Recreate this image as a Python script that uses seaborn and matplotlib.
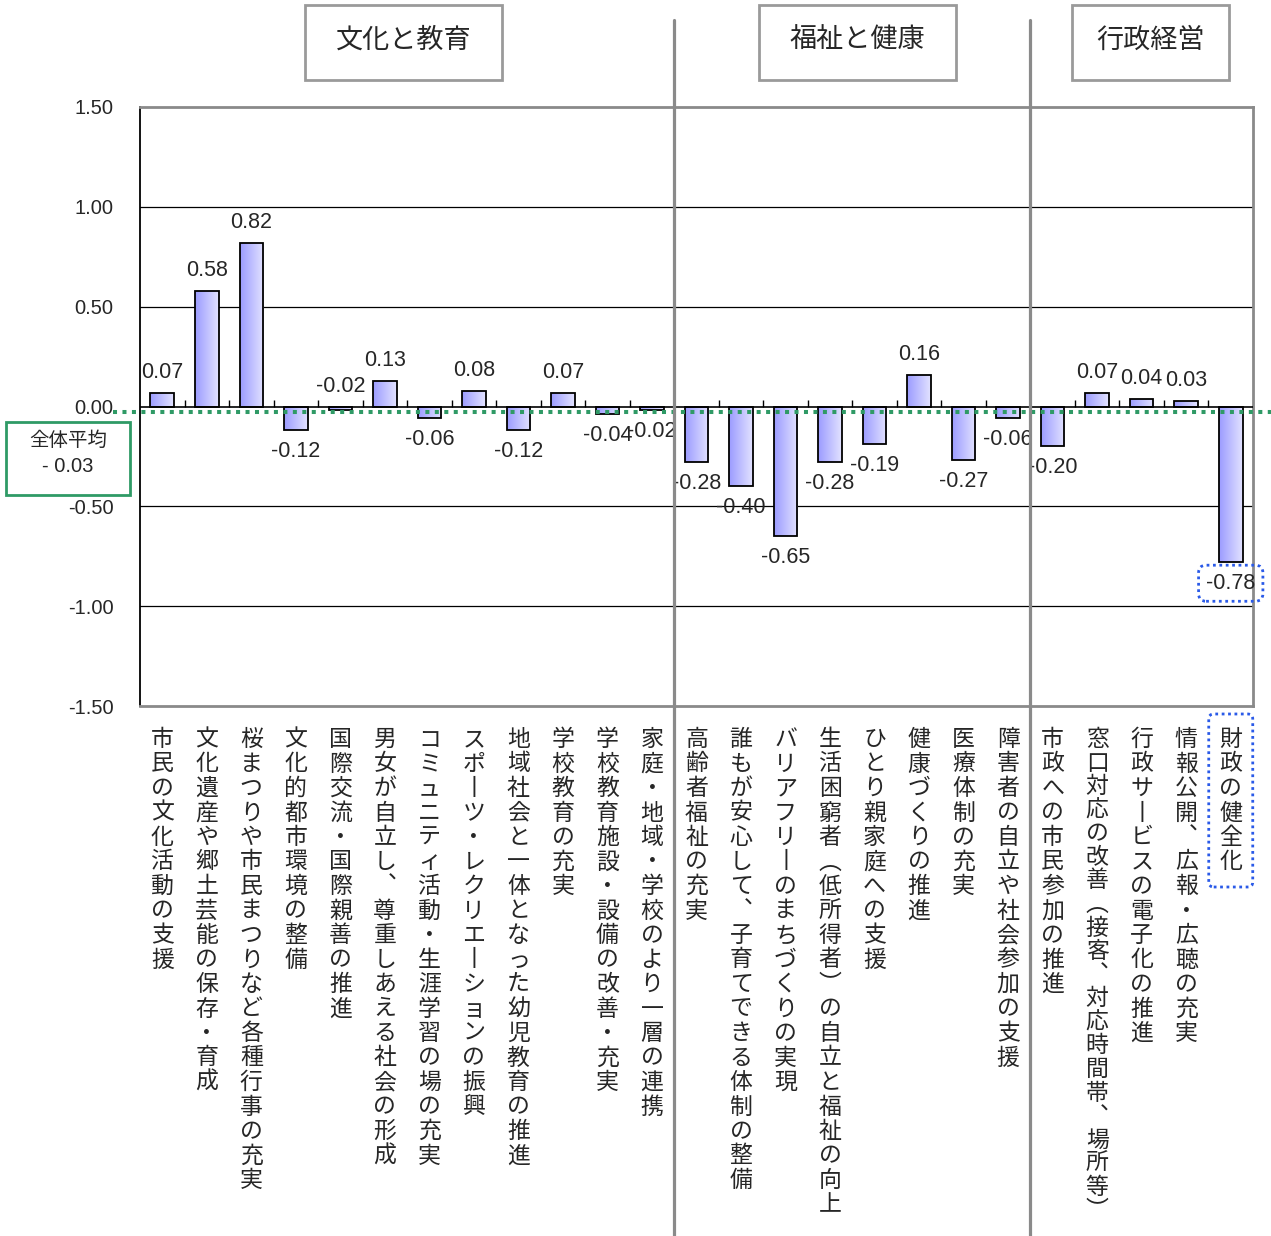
import numpy as np
import pandas as pd
import matplotlib
matplotlib.use("Agg")
import matplotlib.pyplot as plt
import seaborn as sns
from matplotlib.transforms import blended_transform_factory, IdentityTransform
from matplotlib.patches import Rectangle, FancyBboxPatch
from matplotlib.colors import LinearSegmentedColormap

# ---- data -------------------------------------------------------------
categories = [
    "市民の文化活動の支援",
    "文化遺産や郷土芸能の保存・育成",
    "桜まつりや市民まつりなど各種行事の充実",
    "文化的都市環境の整備",
    "国際交流・国際親善の推進",
    "男女が自立し、尊重しあえる社会の形成",
    "コミュニティ活動・生涯学習の場の充実",
    "スポーツ・レクリエーションの振興",
    "地域社会と一体となった幼児教育の推進",
    "学校教育の充実",
    "学校教育施設・設備の改善・充実",
    "家庭・地域・学校のより一層の連携",
    "高齢者福祉の充実",
    "誰もが安心して、子育てできる体制の整備",
    "バリアフリーのまちづくりの実現",
    "生活困窮者（低所得者）の自立と福祉の向上",
    "ひとり親家庭への支援",
    "健康づくりの推進",
    "医療体制の充実",
    "障害者の自立や社会参加の支援",
    "市政への市民参加の推進",
    "窓口対応の改善（接客、対応時間帯、場所等）",
    "行政サービスの電子化の推進",
    "情報公開、広報・広聴の充実",
    "財政の健全化",
]
scores = [0.07, 0.58, 0.82, -0.12, -0.02, 0.13, -0.06, 0.08, -0.12, 0.07,
          -0.04, -0.02, -0.28, -0.40, -0.65, -0.28, -0.19, 0.16, -0.27, -0.06,
          -0.20, 0.07, 0.04, 0.03, -0.78]
groups = ["文化と教育", "福祉と健康", "行政経営"]
group_sizes = [12, 8, 5]
overall_avg = -0.03
avg_caption = ["全体平均", "- 0.03"]
y_ticks = [1.5, 1.0, 0.5, 0.0, -0.5, -1.0, -1.5]
y_tick_labels = ["1.50", "1.00", "0.50", "0.00", "-0.50", "-1.00", "-1.50"]
highlight = "財政の健全化"

# ---- style ------------------------------------------------------------
sns.set_style("white")
plt.rcParams["font.family"] = ["Noto Sans CJK JP", "DejaVu Sans"]
NUM_FONT = ["Liberation Sans Narrow", "Liberation Sans", "DejaVu Sans"]
GREEN = "#2f9a66"
BLUE = "#2a5ae8"
GRAY = "#8a8a8a"

W, H = 1271, 1236
fig = plt.figure(figsize=(W / 100, H / 100), dpi=100)
ax = fig.add_axes([140 / W, 1 - 706 / H, (1253 - 140) / W, (706 - 107) / H])

n = len(categories)
df = pd.DataFrame({"pos": np.arange(n), "score": scores})
sns.barplot(data=df, x="pos", y="score", order=list(range(n)), width=0.53,
            color="#b8b8ff", saturation=1, edgecolor="black", linewidth=1.3,
            ax=ax, zorder=3)

# horizontal gradient fill inside every bar
grad_cmap = LinearSegmentedColormap.from_list("bar", ["#9c9cff", "#e2e2ff"])
grad = np.linspace(0, 1, 64).reshape(1, -1)
for p in list(ax.patches):
    bb = p.get_bbox()
    x0, x1 = min(bb.x0, bb.x1), max(bb.x0, bb.x1)
    y0, y1 = min(bb.y0, bb.y1), max(bb.y0, bb.y1)
    p.set_facecolor("none")
    if y1 - y0 <= 0:
        continue
    im = ax.imshow(grad, extent=[x0, x1, y0, y1], aspect="auto",
                   cmap=grad_cmap, zorder=2.9, interpolation="bilinear")
    im.set_clip_path(p)

ax.set_xlim(-0.5, n - 0.5)
ax.set_ylim(-1.5, 1.5)
ax.set_xlabel("")
ax.set_ylabel("")
ax.set_xticks([])
ax.set_yticks(y_ticks)
ax.set_yticklabels(y_tick_labels, fontfamily=NUM_FONT, fontsize=14.5)
ax.tick_params(axis="y", length=0, pad=19)

# grid, zero line and category ticks on the zero line
for yv in [1.0, 0.5, -0.5, -1.0]:
    ax.axhline(yv, color="black", lw=0.9, zorder=1)
ax.axhline(0, color="black", lw=1.2, zorder=4)
ax.vlines(np.arange(n - 1) + 0.5, 0, 0.035, color="black", lw=1, zorder=4)

for side in ["top", "bottom", "right"]:
    ax.spines[side].set_color(GRAY)
    ax.spines[side].set_linewidth(2)
ax.spines["left"].set_color("black")
ax.spines["left"].set_linewidth(1.3)

# value labels
labels_above = {4}
for i, v in enumerate(scores):
    above = v >= 0 or i in labels_above
    kw = {}
    if categories[i] == highlight:
        kw["bbox"] = dict(boxstyle="round,pad=0.35,rounding_size=0.35",
                          fc="none", ec=BLUE, lw=2, ls=(0, (1, 1.3)))
    ax.annotate(f"{v:.2f}", xy=(i, max(v, 0) if above else v),
                xytext=(0, 20 if above else -21), textcoords="offset pixels",
                ha="center", va="center", fontfamily=NUM_FONT, fontsize=15.5,
                zorder=6, annotation_clip=False, **kw)

# overall average dotted line
ax.plot([-0.024, 1.016], [overall_avg, overall_avg],
        transform=blended_transform_factory(ax.transAxes, ax.transData),
        color=GREEN, lw=2.9, ls=(0, (1, 1.35)), dash_capstyle="butt",
        clip_on=False, zorder=7)

# group separators running to the bottom of the figure
sep_tr = blended_transform_factory(ax.transData, fig.transFigure)
bounds = np.cumsum(group_sizes)[:-1] - 0.5
for b in bounds:
    ax.plot([b, b], [1 - 20 / H, 0], transform=sep_tr, color=GRAY, lw=2.3,
            clip_on=False, zorder=8)

# vertical category labels, one character per line; long labels are
# squeezed so they stay inside the figure
VERT = {"ー": "丨", "（": "︵", "）": "︶", "、": "︑"}
lab_tr = blended_transform_factory(ax.transData, ax.transAxes)
PITCH = 24.5
LABEL_ROOM = 495
for i, label in enumerate(categories):
    pitch = min(PITCH, LABEL_ROOM / len(label))
    for k, ch in enumerate(label):
        ax.annotate(VERT.get(ch, ch), xy=(i, 0), xycoords=lab_tr,
                    xytext=(0, -(40 + k * pitch)),
                    textcoords="offset pixels",
                    ha="center", va="baseline", fontsize=16.5,
                    annotation_clip=False)

# dotted frame around the highlighted category label
fig.canvas.draw()
hi = categories.index(highlight)
xc = ax.transData.transform((hi, 0))[0]
ax_bottom = ax.transAxes.transform((0, 0))[1]
top = ax_bottom - 8
bottom = ax_bottom - (21 + len(highlight) * PITCH + 13)
fig.add_artist(FancyBboxPatch((xc - 22, bottom), 44, top - bottom,
                              boxstyle="round,pad=0,rounding_size=5",
                              transform=IdentityTransform(), fc="none",
                              ec=BLUE, lw=2, ls=(0, (1, 1.3))))

# group header boxes
header_boxes = [(305, 502), (759, 956), (1072, 1229)]
for name, (x0, x1) in zip(groups, header_boxes):
    fig.add_artist(Rectangle((x0 / W, 1 - 80 / H), (x1 - x0) / W, 75 / H,
                             transform=fig.transFigure, fc="white",
                             ec="#9a9a9a", lw=2))
    fig.text((x0 + x1) / 2 / W, 1 - 40 / H, name, ha="center", va="center",
             fontsize=19.5)

# average caption box
fig.add_artist(Rectangle((6 / W, 1 - 495 / H), 124 / W, 73 / H,
                         transform=fig.transFigure, fc="white", ec=GREEN,
                         lw=2, zorder=9))
fig.text(68 / W, 1 - 440 / H, avg_caption[0], ha="center", va="center",
         fontsize=14, zorder=10)
fig.text(68 / W, 1 - 466 / H, avg_caption[1], ha="center", va="center",
         fontsize=14.5, fontfamily=NUM_FONT, zorder=10)

fig.savefig("out.png", dpi=100)
